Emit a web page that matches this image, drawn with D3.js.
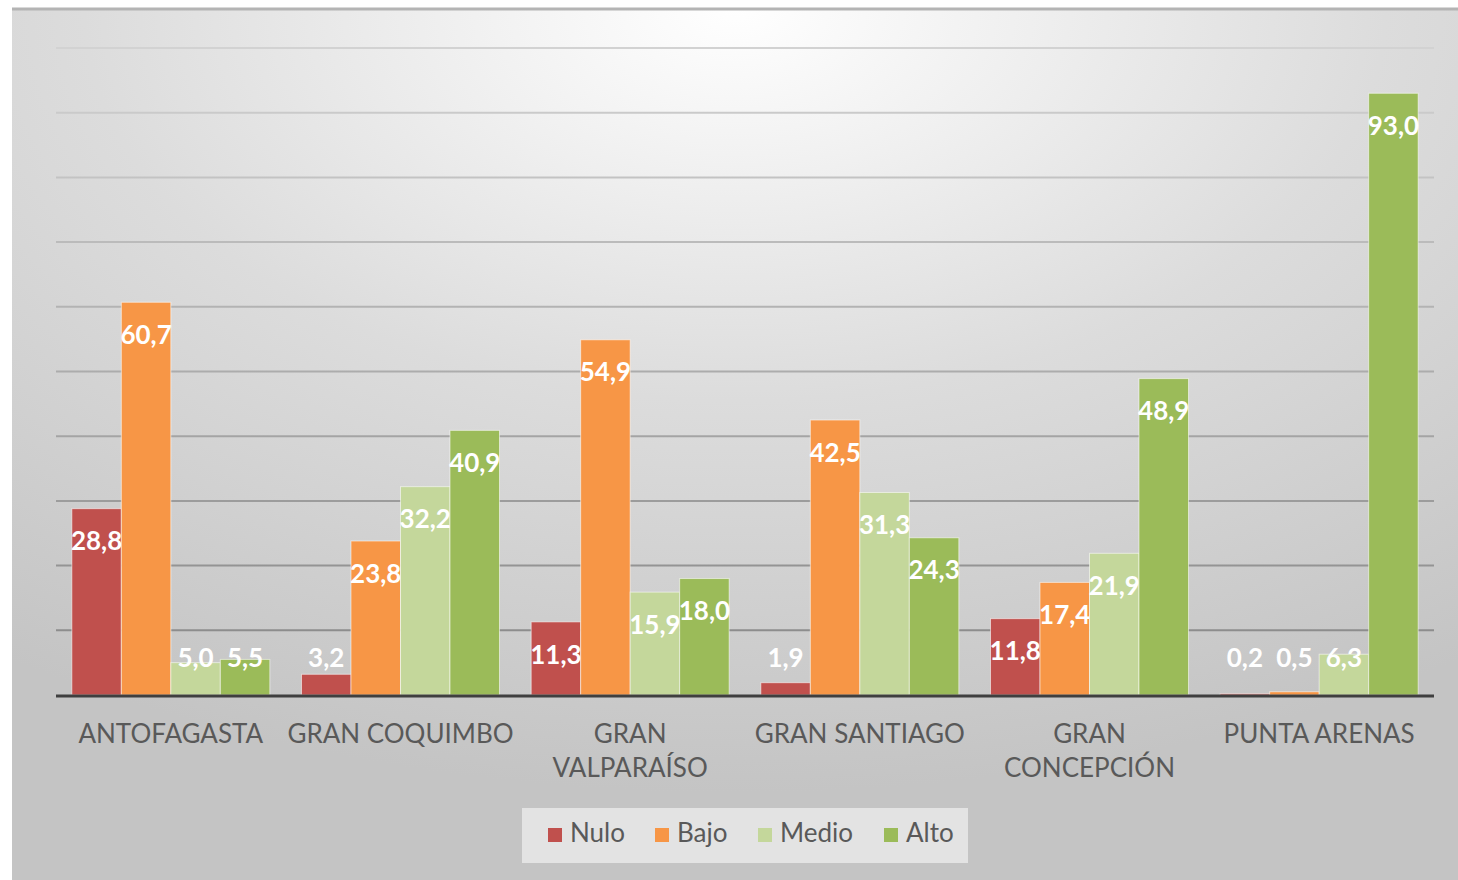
<!DOCTYPE html>
<html>
<head>
<meta charset="utf-8">
<script src="https://cdn.jsdelivr.net/npm/d3@7"></script>
<style>
  body { margin: 0; background: #ffffff; }
  svg { display: block; }
</style>
</head>
<body>
<svg id="chart" width="1458" height="880"></svg>
<script>
// data
const categories = ["ANTOFAGASTA", "GRAN COQUIMBO", "GRAN VALPARAÍSO", "GRAN SANTIAGO", "GRAN CONCEPCIÓN", "PUNTA ARENAS"];
const category_lines = [["ANTOFAGASTA"], ["GRAN COQUIMBO"], ["GRAN", "VALPARAÍSO"], ["GRAN SANTIAGO"], ["GRAN", "CONCEPCIÓN"], ["PUNTA ARENAS"]];
const series_names = ["Nulo", "Bajo", "Medio", "Alto"];
const nulo = [28.8, 3.2, 11.3, 1.9, 11.8, 0.2];
const bajo = [60.7, 23.8, 54.9, 42.5, 17.4, 0.5];
const medio = [5.0, 32.2, 15.9, 31.3, 21.9, 6.3];
const alto = [5.5, 40.9, 18.0, 24.3, 48.9, 93.0];
const grid_ticks = [10, 20, 30, 40, 50, 60, 70, 80, 90, 100];

const series_values = [nulo, bajo, medio, alto];
const colors = ["#c0504d", "#f79646", "#c4d79b", "#9bbb59"];

const svg = d3.select("#chart");
const font = "Lato, 'Open Sans', sans-serif";

// background with soft radial gradient
const defs = svg.append("defs");
const grad = defs.append("radialGradient")
    .attr("id", "bg")
    .attr("cx", "50%").attr("cy", "0%").attr("r", "90%");
grad.append("stop").attr("offset", "0%").attr("stop-color", "#ffffff");
grad.append("stop").attr("offset", "50%").attr("stop-color", "#dcdcdc");
grad.append("stop").attr("offset", "100%").attr("stop-color", "#c4c4c4");

svg.append("rect")
    .attr("x", 12).attr("y", 8)
    .attr("width", 1446).attr("height", 872)
    .attr("fill", "url(#bg)");
svg.append("line")
    .attr("x1", 12).attr("x2", 1458)
    .attr("y1", 9).attr("y2", 9)
    .attr("stroke", "#b4b4b4").attr("stroke-width", 3);

const x = d3.scaleBand().domain(categories).range([56, 1434]).paddingInner(0).paddingOuter(0);
const x_inner = d3.scaleBand().domain(series_names).range([0, x.bandwidth()]).paddingOuter(0.32);
const y = d3.scaleLinear().domain([0, 100]).range([695, 48]);

const line_color = d3.scaleLinear().domain([48, 695]).range(["#d2d2d2", "#858585"]);

svg.append("g")
    .selectAll("line")
    .data(grid_ticks)
    .join("line")
    .attr("x1", 56).attr("x2", 1434)
    .attr("y1", d => y(d)).attr("y2", d => y(d))
    .attr("stroke", d => line_color(y(d)))
    .attr("stroke-width", 2);

// bars
const groups = svg.append("g")
    .selectAll("g")
    .data(categories)
    .join("g")
    .attr("transform", d => "translate(" + x(d) + ",0)");

const cells = groups.selectAll("g")
    .data((c, i) => series_names.map((s, j) => ({ series: s, index: j, value: series_values[j][i] })))
    .join("g");

cells.append("rect")
    .attr("x", d => x_inner(d.series))
    .attr("width", x_inner.bandwidth())
    .attr("y", d => y(d.value))
    .attr("height", d => y(0) - y(d.value))
    .attr("fill", d => colors[d.index])
    .attr("stroke", "rgba(255,255,255,0.55)")
    .attr("stroke-width", 1);

cells.append("text")
    .attr("x", d => x_inner(d.series) + x_inner.bandwidth() / 2)
    .attr("y", d => Math.min(y(d.value) + 35, y(0) - 35))
    .attr("text-anchor", "middle")
    .attr("dominant-baseline", "middle")
    .style("font-family", font)
    .style("font-weight", "bold")
    .style("font-size", "26px")
    .attr("fill", "#ffffff")
    .text(d => d.value.toFixed(1).replace(".", ","));

// baseline axis
svg.append("line")
    .attr("x1", 56).attr("x2", 1434)
    .attr("y1", y(0) + 1).attr("y2", y(0) + 1)
    .attr("stroke", "#3f3f3f").attr("stroke-width", 3);

// category labels
svg.append("g")
    .selectAll("text")
    .data(categories)
    .join("text")
    .attr("x", d => x(d) + x.bandwidth() / 2)
    .attr("y", 743)
    .attr("text-anchor", "middle")
    .style("font-family", font)
    .style("font-size", "26px")
    .attr("fill", "#595959")
    .each(function(d, i) {
        d3.select(this).selectAll("tspan")
            .data(category_lines[i])
            .join("tspan")
            .attr("x", x(d) + x.bandwidth() / 2)
            .attr("dy", (l, k) => k == 0 ? 0 : 34)
            .text(l => l);
    });

// legend
svg.append("rect")
    .attr("x", 522).attr("y", 808)
    .attr("width", 446).attr("height", 55)
    .attr("fill", "#e3e3e3");

const legend_x = [548, 655, 758, 884];
const legend = svg.append("g")
    .selectAll("g")
    .data(series_names)
    .join("g")
    .attr("transform", (d, i) => "translate(" + legend_x[i] + ",828)");

legend.append("rect")
    .attr("width", 14).attr("height", 14)
    .attr("fill", (d, i) => colors[i]);

legend.append("text")
    .attr("x", 22).attr("y", 7)
    .attr("dominant-baseline", "middle")
    .style("font-family", font)
    .style("font-size", "26px")
    .attr("fill", "#595959")
    .text(d => d);
</script>
</body>
</html>
